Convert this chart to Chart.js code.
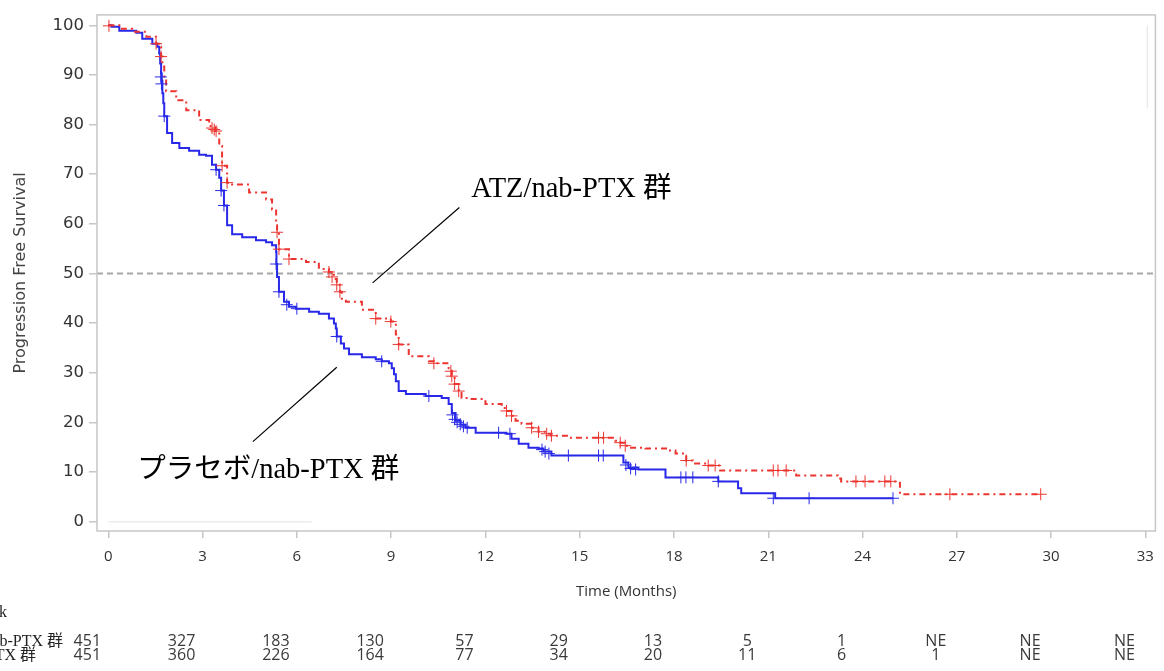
<!DOCTYPE html>
<html><head><meta charset="utf-8">
<script src="https://cdn.jsdelivr.net/npm/chart.js@4.4.1/dist/chart.umd.min.js"></script>
<style>html,body{margin:0;padding:0;background:#fff;overflow:hidden}</style>
</head><body>
<canvas id="c" width="1164" height="671"></canvas>
<script>
// ---- axis ticks ----
const xTicks = [0,3,6,9,12,15,18,21,24,27,30,33];
const yTicks = [0,10,20,30,40,50,60,70,80,90,100];

// ---- プラセボ/nab-PTX 群 (blue, solid) : step events ----
const placeboTime = [0,0.1,0.35,0.89,1.08,1.40,1.56,1.62,1.65,1.68,1.70,1.72,1.75,1.78,1.87,2.03,2.26,2.57,2.89,3.11,3.30,3.43,3.53,3.59,3.68,3.78,3.94,4.26,4.70,5.02,5.21,5.34,5.35,5.37,5.43,5.59,5.75,5.97,6.39,6.70,7.02,7.18,7.24,7.27,7.40,7.50,7.66,8.07,8.51,8.70,8.93,9.02,9.09,9.15,9.24,9.47,10.1,10.61,10.83,10.93,11.05,11.21,11.37,11.69,12.67,12.83,13.06,13.37,13.69,13.85,14.10,16.39,16.55,16.87,17.73,19.41,20.04,20.14,21.22,24.97];
const placeboSurv = [100,99.7,98.9,98.5,97.3,96.3,95.7,94.3,92.3,90.3,88.9,86.3,84.3,81.7,78.3,76.3,75.3,74.7,73.9,73.7,71.9,70.9,69.3,66.7,63.7,59.7,57.9,57.3,56.7,56.3,55.7,54.3,51.9,49.3,46.3,44.3,43.3,42.9,42.3,41.9,40.9,39.9,38.9,37.3,35.9,34.9,33.7,33.1,32.7,32.3,31.9,30.9,29.7,28.3,26.3,25.7,25.3,24.9,23.7,21.9,20.3,19.5,18.9,17.9,17.7,16.7,15.7,14.9,14.7,14.1,13.3,11.9,10.9,10.5,8.9,8.1,6.7,5.7,4.7,4.7];
// censored marks
const placeboCensTime = [1.67,1.69,1.78,3.43,3.59,3.68,5.34,5.43,5.68,6.0,7.27,8.70,10.2,10.95,11.02,11.1,11.2,11.3,11.42,12.42,12.78,13.8,13.9,14.02,14.64,15.6,15.75,16.47,16.62,16.78,18.22,18.38,18.6,19.41,21.16,22.3,24.97];
const placeboCensSurv = [89.6,88.2,81.7,70.9,66.7,63.7,51.9,46.3,43.7,42.9,37.3,32.3,25.3,21.5,20.6,20.0,19.6,19.2,18.9,17.9,17.7,14.5,14.1,13.7,13.3,13.3,13.3,11.4,10.7,10.5,8.9,8.9,8.9,8.1,4.7,4.7,4.7];

// ---- ATZ/nab-PTX 群 (red, dash-dot) : step events ----
const atzTime = [0,0.35,0.76,1.21,1.52,1.62,1.68,1.72,1.78,1.84,2.16,2.48,2.89,3.21,3.40,3.53,3.62,3.78,3.94,4.48,5.02,5.21,5.34,5.37,5.43,5.75,6.29,6.70,7.02,7.18,7.27,7.37,7.43,7.56,8.07,8.51,8.99,9.15,9.24,9.56,10.2,10.36,10.83,10.93,11.02,11.15,11.24,11.47,12.0,12.52,12.67,12.83,12.96,13.15,13.47,13.69,13.95,14.10,14.64,16.13,16.29,16.45,16.6,17.09,17.82,18.05,18.39,18.6,19.09,19.47,21.89,23.22,23.32,25.19,29.67];
const atzSurv = [100,99.3,98.7,97.7,96.3,95.7,93.7,91.7,88.9,86.7,84.9,82.9,80.9,79.7,78.7,75.7,71.7,68.3,67.9,66.3,64.9,62.9,59.7,58.3,54.9,52.9,52.3,50.9,50.3,48.9,47.7,46.3,44.9,44.3,42.7,40.9,40.3,37.7,35.7,33.3,32.3,31.9,30.9,29.3,27.7,26.3,24.9,24.7,23.7,22.9,22.3,21.3,20.3,19.7,18.9,18.1,17.7,17.3,16.9,16.3,15.9,15.3,14.9,14.7,14.3,13.7,12.3,11.7,11.3,10.3,9.3,8.7,8.1,5.5,5.5];
const atzCensTime = [0.02,1.52,1.68,3.30,3.37,3.43,3.62,3.78,5.37,5.43,5.75,7.02,7.12,7.27,7.37,8.51,8.99,9.24,10.36,10.9,10.93,11.02,11.15,12.67,12.83,13.47,13.69,13.95,14.10,15.6,15.76,16.29,16.45,18.39,19.09,19.31,21.16,21.31,21.57,23.79,24.08,24.71,24.90,26.78,29.67];
const atzCensSurv = [99.9,96.3,93.7,79.3,79.0,78.7,71.7,68.3,58.3,54.9,52.9,50.3,49.3,47.7,46.3,40.9,40.3,35.7,31.9,30.3,29.3,27.7,26.3,22.3,21.3,18.9,18.1,17.7,17.3,16.9,16.9,15.9,15.3,12.3,11.3,11.3,10.3,10.3,10.3,8.1,8.1,8.1,8.1,5.5,5.5];

// ---- number at risk ----
const riskLabels = ['プラセボ/nab-PTX 群', 'ATZ/nab-PTX 群'];
const placeboRisk = ['451','327','183','130','57','29','13','5','1','NE','NE','NE'];
const atzRisk = ['451','360','226','164','77','34','20','11','6','1','NE','NE'];

// ---- annotations (data coordinates) ----
const annoText = ['ATZ/nab-PTX 群', 'プラセボ/nab-PTX 群'];
const annoTextPos = [[11.55, 66.9], [0.92, 10.3]];
const annoLines = [[[11.17, 63.3], [8.41, 48.1]], [[7.27, 31.1], [4.60, 16.1]]];
const medianLine = 50;

const X_MIN = -0.36, X_MAX = 33.32, Y_MIN = -1.9, Y_MAX = 102.1;

const RED = 'rgb(236,52,48)';
const BLUE = 'rgb(40,40,232)';

const pts = (xs, ys) => xs.map((x, i) => ({x, y: ys[i]}));

const overlay = {
  id: 'overlay',
  afterDraw(chart) {
    const ctx = chart.ctx, a = chart.chartArea;
    const xs = chart.scales.x, ys = chart.scales.y;
    ctx.save();
    // frame
    ctx.strokeStyle = '#c6c6c6';
    ctx.lineWidth = 1.5;
    ctx.strokeRect(a.left, a.top, a.right - a.left, a.bottom - a.top);
    // faint leftovers
    ctx.strokeStyle = '#e2e2e2';
    ctx.lineWidth = 1;
    ctx.beginPath();
    ctx.moveTo(xs.getPixelForValue(33.06), ys.getPixelForValue(99.9));
    ctx.lineTo(xs.getPixelForValue(33.06), ys.getPixelForValue(83.3));
    ctx.moveTo(xs.getPixelForValue(0), ys.getPixelForValue(-0.06));
    ctx.lineTo(xs.getPixelForValue(6.47), ys.getPixelForValue(-0.06));
    ctx.stroke();
    // annotation lines
    ctx.strokeStyle = '#000';
    ctx.lineWidth = 1.2;
    annoLines.forEach(l => {
      ctx.beginPath();
      ctx.moveTo(xs.getPixelForValue(l[0][0]), ys.getPixelForValue(l[0][1]));
      ctx.lineTo(xs.getPixelForValue(l[1][0]), ys.getPixelForValue(l[1][1]));
      ctx.stroke();
    });
    ctx.fillStyle = '#000';
    ctx.font = '28.5px "Liberation Serif", "Noto Sans CJK JP", serif';
    ctx.textAlign = 'left';
    ctx.textBaseline = 'middle';
    annoText.forEach((t, i) => {
      ctx.fillText(t, xs.getPixelForValue(annoTextPos[i][0]), ys.getPixelForValue(annoTextPos[i][1]));
    });
    // number at risk
    ctx.textBaseline = 'alphabetic';
    ctx.font = '16px "Liberation Serif", "Noto Sans CJK JP", serif';
    ctx.textAlign = 'right';
    ctx.fillStyle = '#222';
    ctx.fillText('Number at risk', 7, 617);
    ctx.fillText(riskLabels[0], 63, 646);
    ctx.fillText(riskLabels[1], 36, 660);
    ctx.font = '16px "Open Sans", sans-serif';
    ctx.textAlign = 'center';
    ctx.fillStyle = '#3a3a3a';
    xTicks.forEach((t, i) => {
      const px = xs.getPixelForValue(t) - 21;
      ctx.fillText(placeboRisk[i], px, 646);
      ctx.fillText(atzRisk[i], px, 660);
    });
    ctx.restore();
  }
};

new Chart(document.getElementById('c'), {
  type: 'line',
  data: {
    datasets: [
      { data: pts(atzCensTime, atzCensSurv), showLine: false, pointStyle: 'cross', pointRadius: 6, pointBorderWidth: 1, borderColor: RED, backgroundColor: RED },
      { data: pts(placeboCensTime, placeboCensSurv), showLine: false, pointStyle: 'cross', pointRadius: 6, pointBorderWidth: 1, borderColor: BLUE, backgroundColor: BLUE },
      { data: pts(atzTime, atzSurv), stepped: 'before', borderColor: RED, borderWidth: 2, borderDash: [6, 4, 2, 4], pointRadius: 0, fill: false },
      { data: pts(placeboTime, placeboSurv), stepped: 'before', borderColor: BLUE, borderWidth: 2, pointRadius: 0, fill: false },
      { data: [{x: X_MIN, y: medianLine}, {x: X_MAX, y: medianLine}], borderColor: '#a8a8a8', borderWidth: 2, borderDash: [6, 4], pointRadius: 0, fill: false }
    ]
  },
  options: {
    responsive: false,
    animation: false,
    devicePixelRatio: 1,
    layout: { padding: { left: 0, top: 11, right: 6, bottom: 68 } },
    plugins: { legend: { display: false }, tooltip: { enabled: false } },
    scales: {
      x: {
        type: 'linear', min: X_MIN, max: X_MAX,
        afterBuildTicks: s => { s.ticks = xTicks.map(v => ({value: v})); },
        afterFit: s => { s.height = 72; },
        grid: { drawOnChartArea: false, drawTicks: true, tickLength: 7, color: '#c6c6c6', lineWidth: 1.5 },
        border: { display: false },
        ticks: { autoSkip: false, maxRotation: 0, padding: 10, color: '#333', font: { family: '"Open Sans", sans-serif', size: 15 } },
        title: { display: true, text: 'Time (Months)', color: '#333', padding: { top: 0, bottom: 2 }, font: { family: '"Open Sans", sans-serif', size: 15 } }
      },
      y: {
        type: 'linear', min: Y_MIN, max: Y_MAX,
        afterBuildTicks: s => { s.ticks = yTicks.map(v => ({value: v})); },
        afterFit: s => { s.width = 97; },
        grid: { drawOnChartArea: false, drawTicks: true, tickLength: 8, color: '#c6c6c6', lineWidth: 1.5 },
        border: { display: false },
        ticks: { autoSkip: false, padding: 5, color: '#333', font: { family: '"DejaVu Sans", sans-serif', size: 16.5 } },
        title: { display: true, text: 'Progression Free Survival', color: '#444', padding: { top: 11, bottom: 0 }, font: { family: '"DejaVu Sans", sans-serif', size: 16 } }
      }
    }
  },
  plugins: [overlay]
});
</script>
</body></html>
